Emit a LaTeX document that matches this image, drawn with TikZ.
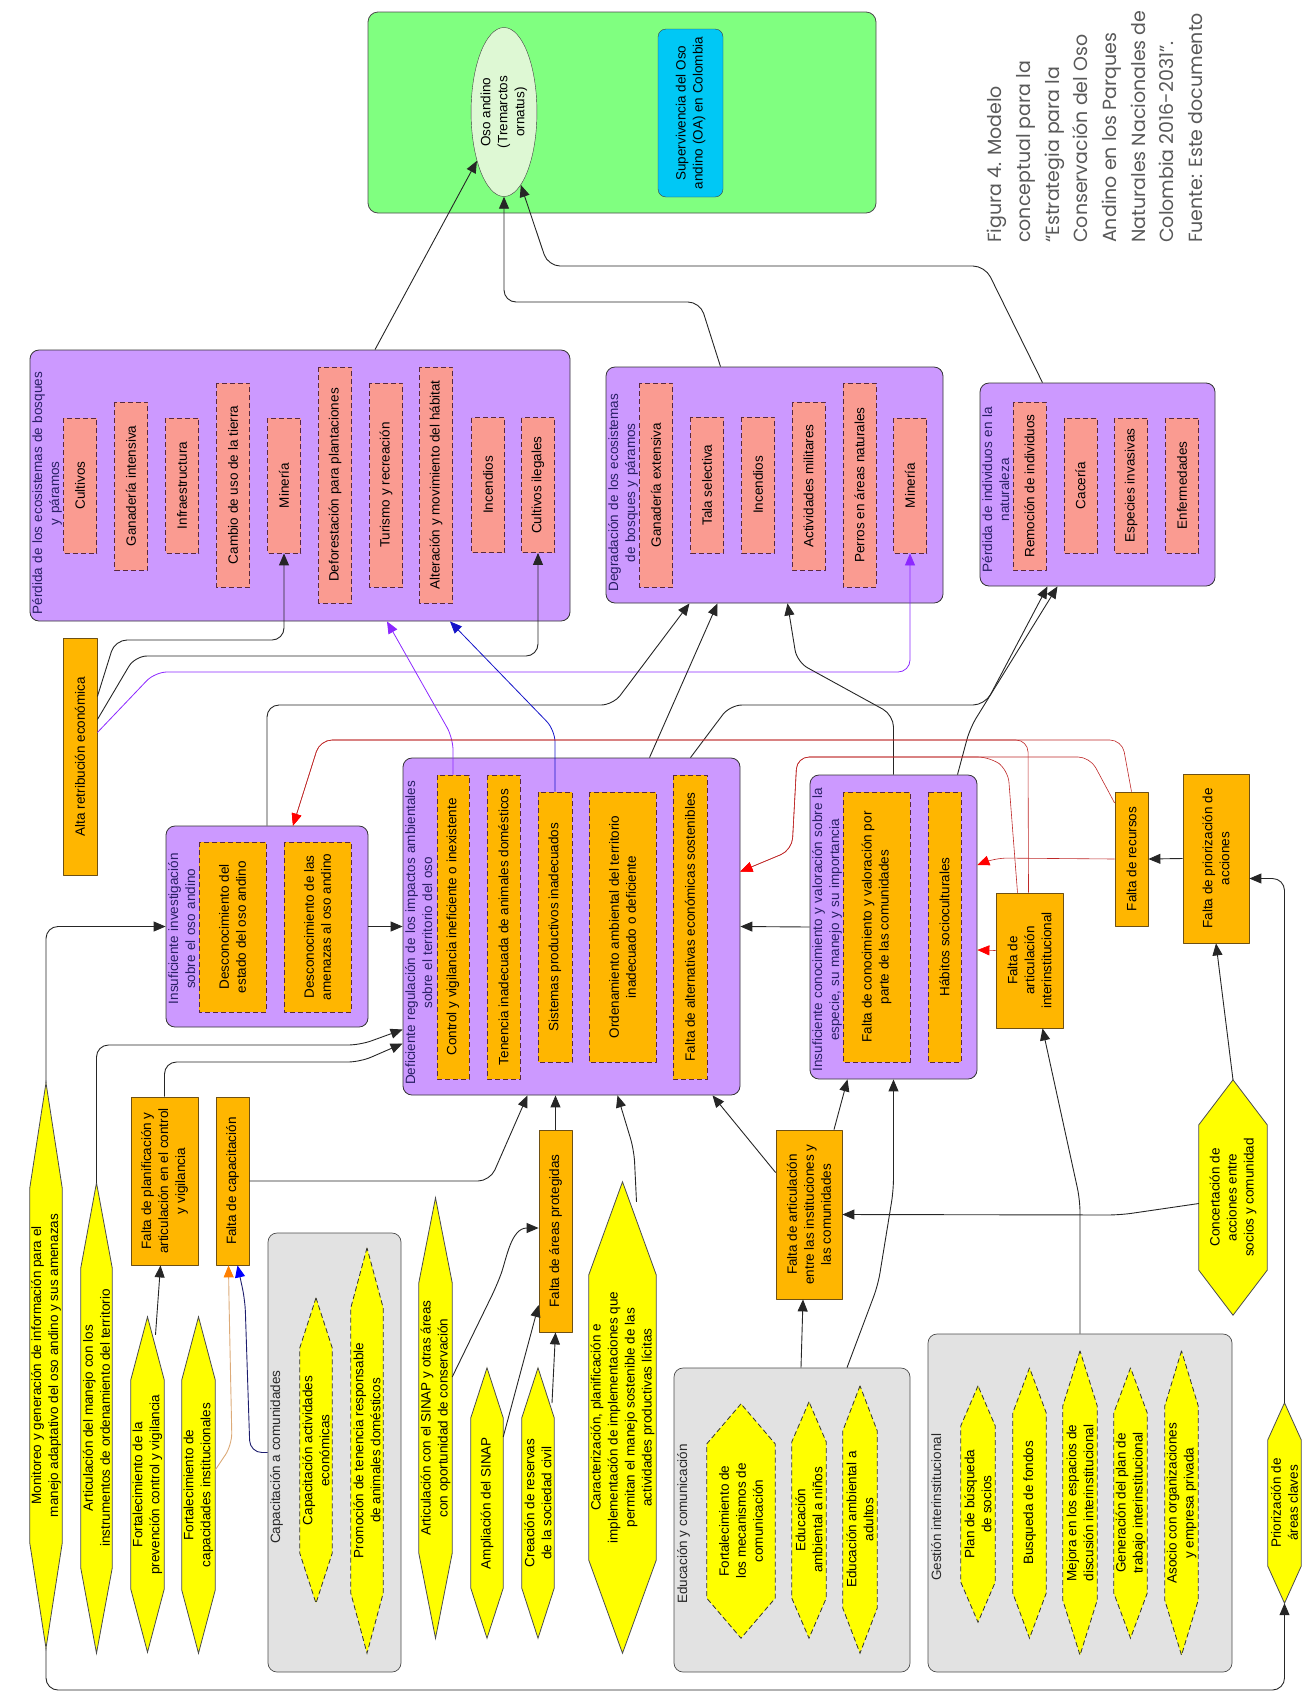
\documentclass[tikz,border=0pt]{standalone}
\usepackage{fontspec}
\setmainfont{Liberation Sans}
\newfontfamily\capfont{Poppins}
\usetikzlibrary{arrows.meta,calc,shapes.geometric}
\pgfdeclarelayer{back}
\pgfdeclarelayer{mid}
\pgfsetlayers{back,mid,main}
\definecolor{lila}{RGB}{204,153,255}
\definecolor{rosa}{RGB}{250,155,145}
\definecolor{naranja}{RGB}{255,182,0}
\definecolor{amarillo}{RGB}{255,255,0}
\definecolor{gris}{RGB}{226,226,226}
\definecolor{verde}{RGB}{128,255,128}
\definecolor{verdeclaro}{RGB}{222,248,212}
\definecolor{celeste}{RGB}{0,200,245}
\definecolor{rojo}{RGB}{190,40,40}
\definecolor{morado}{RGB}{140,40,255}
\definecolor{azul}{RGB}{20,20,200}
\definecolor{marino}{RGB}{30,30,110}
\definecolor{canela}{RGB}{220,170,120}
\definecolor{borde}{RGB}{90,40,60}
\definecolor{cafe}{RGB}{110,80,20}
\definecolor{tinta}{RGB}{40,30,100}
\tikzset{
  txt/.style={font=\fontsize{13.5}{17}\selectfont, align=center, inner sep=1pt},
  grp/.style={draw=black!80, line width=0.8pt, fill=lila, rounded corners=9pt},
  caja/.style={draw=black!70, line width=0.7pt, fill=gris, rounded corners=9pt},
  ttl/.style={txt, rotate=90, anchor=north west, text=tinta},
  gttl/.style={txt, rotate=90, anchor=north west, text=black!85},
  ame/.style={txt, rotate=90, draw=borde, dash pattern=on 5pt off 3pt, fill=rosa, line width=0.8pt, minimum height=33pt},
  cau/.style={txt, rotate=90, draw=borde, dash pattern=on 5pt off 3pt, fill=naranja, line width=0.8pt, minimum height=33pt},
  fac/.style={txt, rotate=90, draw=cafe, fill=naranja, line width=0.8pt},
  hex/.style={txt, rotate=90, inner sep=0.5pt},
  hexline/.style={draw=black!70, fill=amarillo, line width=0.8pt},
  hexdash/.style={hexline, draw=black!80, dash pattern=on 5pt off 3pt},
  con/.style={draw=black!85, line width=0.9pt, rounded corners=12pt, -{Triangle[length=12pt,width=10pt]}},
  rcon/.style={draw=rojo, line width=0.6pt, rounded corners=12pt, -{Triangle[length=12pt,width=10pt,color=red]}},
  mcon/.style={draw=morado, line width=0.8pt, rounded corners=12pt, -{Triangle[length=12pt,width=10pt]}},
  bcon/.style={draw=azul, line width=0.8pt, rounded corners=12pt, -{Triangle[length=12pt,width=10pt]}},
  tcon/.style={draw=canela, line width=0.9pt, rounded corners=12pt, -{Triangle[length=12pt,width=10pt,color=orange]}},
  ncon/.style={draw=marino, line width=0.9pt, rounded corners=12pt, -{Triangle[length=12pt,width=10pt,color=blue]}}
}
\begin{document}
\begin{tikzpicture}[x=1pt, y=-1pt, line join=round]
\useasboundingbox (0,0) rectangle (1314,1701);

% objetivo
\node[draw=black!70, fill=verde, rounded corners=10pt, line width=0.8pt, minimum width=508pt, minimum height=201pt] (meta) at (622,112.5) {};
\node[txt, ellipse, rotate=90, draw=black!75, fill=verdeclaro, minimum width=169pt, minimum height=64pt, inner sep=0pt] (oso) at (504,112) {Oso andino\\(Tremarctos\\ornatus)};
\node[txt, rotate=90, draw=black!75, fill=celeste, rounded corners=8pt, minimum width=168pt, minimum height=65pt] (sup) at (690.5,113) {Supervivencia del Oso\\andino (OA) en Colombia};

% leyenda
\node[rotate=90, anchor=north west, align=left, inner sep=0pt, text=black!65, font=\capfont\fontsize{19}{28.7}\selectfont] (cap) at (987,243) {Figura 4. Modelo\\conceptual para la\\“Estrategia para la\\Conservación del Oso\\Andino en los Parques\\Naturales Nacionales de\\Colombia 2016-2031”.\\Fuente: Este documento};

% amenazas
\node[grp, minimum width=540pt, minimum height=271pt] (P1) at (300,485.5) {};
\node[ttl, text width=243pt] (P1t) at (31,616) {Pérdida de los ecosistemas de bosques\\y páramos};
\node[ame, minimum width=135pt] (cul) at (80,485.5) {Cultivos};
\node[ame, minimum width=168pt] (gint) at (131,486) {Ganadería intensiva};
\node[ame, minimum width=135pt] (inf) at (182,485.5) {Infraestructura};
\node[ame, minimum width=204pt] (cam) at (233,485) {Cambio de uso de la tierra};
\node[ame, minimum width=135pt] (min) at (284,485.5) {Minería};
\node[ame, minimum width=236pt] (def) at (335,485) {Deforestación para plantaciones};
\node[ame, minimum width=204pt] (tur) at (386,485) {Turismo y recreación};
\node[ame, minimum width=236pt] (alt) at (436,485) {Alteración y movimiento del hábitat};
\node[ame, minimum width=135pt] (inc) at (488,485) {Incendios};
\node[ame, minimum width=135pt] (cil) at (538,485) {Cultivos ilegales};

\node[grp, minimum width=337pt, minimum height=236pt] (P2) at (774.5,485) {};
\node[ttl, text width=200pt] (P2t) at (607,594) {Degradación de los ecosistemas\\de bosques y páramos};
\node[ame, minimum width=204pt] (gext) at (656,485) {Ganadería extensiva};
\node[ame, minimum width=136pt] (tal) at (707,485) {Tala selectiva};
\node[ame, minimum width=136pt] (inc2) at (758,485) {Incendios};
\node[ame, minimum width=168pt] (act) at (808.5,486) {Actividades militares};
\node[ame, minimum width=204pt] (per) at (859.5,485) {Perros en áreas naturales};
\node[ame, minimum width=135pt] (min2) at (910,485.5) {Minería};

\node[grp, minimum width=235pt, minimum height=203pt] (P3) at (1097.5,484.5) {};
\node[ttl, text width=170pt] (P3t) at (981,576) {Pérdida de individuos en la\\naturaleza};
\node[ame, minimum width=168pt] (rem) at (1029.5,486) {Remoción de individuos};
\node[ame, minimum width=135pt] (cac) at (1080.5,485.5) {Cacería};
\node[ame, minimum width=135pt] (esp) at (1131,485.5) {Especies invasivas};
\node[ame, minimum width=135pt] (enf) at (1182,485.5) {Enfermedades};

\node[fac, minimum width=237pt, minimum height=34pt] (alta) at (80,756.5) {Alta retribución económica};

% causas
\node[grp, minimum width=202pt, minimum height=201pt] (I1) at (267,926.5) {};
\node[ttl, text width=156pt] (I1t) at (167,1008) {Insuficiente investigación\\sobre el oso andino};
\node[cau, minimum width=170pt, minimum height=67pt] (i1a) at (232.5,927) {Desconocimiento del\\estado del oso andino};
\node[cau, minimum width=170pt, minimum height=67pt] (i1b) at (317.5,927) {Desconocimiento de las\\amenazas al oso andino};

\node[grp, minimum width=337pt, minimum height=337pt] (D) at (571.5,926.5) {};
\node[ttl, text width=308pt] (Dt) at (404,1088) {Deficiente regulación de los impactos ambientales\\sobre el territorio del oso};
\node[cau, minimum width=304pt, minimum height=32pt] (da) at (453,927) {Control y vigilancia ineficiente o inexistente};
\node[cau, minimum width=304pt] (db) at (503.5,927) {Tenencia inadecuada de animales domésticos};
\node[cau, minimum width=270pt, minimum height=34pt] (dc) at (555,927) {Sistemas productivos inadecuados};
\node[cau, minimum width=270pt, minimum height=67pt] (dd) at (622.5,927) {Ordenamiento ambiental del territorio\\inadecuado o deficiente};
\node[cau, minimum width=304pt, minimum height=34pt] (de) at (690,927) {Falta de alternativas económicas sostenibles};

\node[grp, minimum width=167pt, minimum height=304pt] (K) at (893.5,927) {};
\node[ttl, text width=290pt] (Kt) at (811,1076) {Insuficiente conocimiento y valoración sobre la\\especie, su manejo y su importancia};
\node[cau, minimum width=270pt, minimum height=67pt] (ka) at (876.5,927) {Falta de conocimiento y valoración por\\parte de las comunidades};
\node[cau, minimum width=270pt] (kb) at (944.5,927) {Hábitos socioculturales};

\node[fac, minimum width=135pt, minimum height=67pt] (fai) at (1029.5,960.5) {Falta de\\articulación\\interinstitucional};
\node[fac, minimum width=134pt, minimum height=33pt] (fr) at (1131.5,859) {Falta de recursos};
\node[fac, minimum width=169pt, minimum height=66pt] (fpa) at (1216,858.5) {Falta de priorización de\\acciones};
\node[fac, minimum width=168pt, minimum height=67pt] (fpl) at (164.5,1181) {Falta de planificación y\\articulación en el control\\y vigilancia};
\node[fac, minimum width=168pt, minimum height=33pt] (fc) at (232.5,1181) {Falta de capacitación};
\node[fac, minimum width=202pt, minimum height=33pt] (fap) at (555.5,1231) {Falta de áreas protegidas};
\node[fac, minimum width=169pt, minimum height=66pt] (faic) at (809,1214.5) {Falta de articulación\\entre las instituciones y\\las comunidades};

% estrategias
\begin{pgfonlayer}{back}
\node[caja, minimum width=304pt, minimum height=338pt] (gest) at (1080,1503) {};
\node[caja, minimum width=236pt, minimum height=304pt] (educ) at (792,1520) {};
\node[caja, minimum width=133pt, minimum height=439pt] (capc) at (334.5,1452.5) {};
\end{pgfonlayer}
\node[gttl] (gestt) at (930,1582) {Gestión interinstitucional};
\node[gttl] (educt) at (676,1605) {Educación y comunicación};
\node[gttl] (capct) at (269,1545) {Capacitación a comunidades};

\node[hex, minimum width=565pt, minimum height=32pt] (M) at (46,1365.5) {Monitoreo y generación de información para el\\manejo adaptativo del oso andino y sus amenazas};
\node[hex, minimum width=470pt, minimum height=31pt] (A) at (96.5,1418) {Articulación del manejo con los\\instrumentos de ordenamiento del territorio};
\node[hex, minimum width=335pt, minimum height=33pt] (f1) at (147.5,1484.5) {Fortalecimiento de la\\prevención control y vigilancia};
\node[hex, minimum width=336pt, minimum height=33pt] (f2) at (198.5,1485) {Fortalecimiento de\\capacidades institucionales};
\node[hex, minimum width=305pt, minimum height=32pt] (c1) at (316,1450.5) {Capacitación actividades\\económicas};
\node[hex, minimum width=405pt, minimum height=32pt] (c2) at (367,1450.5) {Promoción de tenencia responsable\\de animales domésticos};
\node[hex, minimum width=440pt, minimum height=33pt] (s1) at (435.5,1418) {Articulación con el SINAP y otras áreas\\con oportunidad de conservación};
\node[hex, minimum width=270pt, minimum height=32pt] (s2) at (487,1503) {Ampliación del SINAP};
\node[hex, minimum width=270pt, minimum height=32pt] (s3) at (538,1503) {Creación de reservas\\de la sociedad civil};
\node[hex, minimum width=471pt, minimum height=67pt] (car) at (622.5,1417.5) {Caracterización, planificación e\\implementación de implementaciones que\\permitan el manejo sostenible de las\\actividades productivas lícitas};
\node[hex, minimum width=234pt, minimum height=68pt] (e1) at (741,1521) {Fortalecimiento de\\los mecanismos de\\comunicación};
\node[hex, minimum width=236pt, minimum height=34pt] (e2) at (809,1520) {Educación\\ambiental a niños};
\node[hex, minimum width=267pt, minimum height=34pt] (e3) at (860,1519.5) {Educación ambiental a\\adultos};
\node[hex, minimum width=236pt, minimum height=34pt] (g1) at (978,1504) {Plan de búsqueda\\de socios};
\node[hex, minimum width=270pt, minimum height=33pt] (g2) at (1029.5,1503) {Busqueda de fondos};
\node[hex, minimum width=304pt, minimum height=34pt] (g3) at (1080,1503) {Mejora en los espacios de\\discusión interinstitucional};
\node[hex, minimum width=270pt, minimum height=33pt] (g4) at (1130.5,1503) {Generación del plan de\\trabajo interinstitucional};
\node[hex, minimum width=304pt, minimum height=33pt] (g5) at (1181.5,1503) {Asocio con organizaciones\\y empresa privada};
\node[hex, minimum width=235pt, minimum height=68pt] (conc) at (1233,1197.5) {Concertación de\\acciones entre\\socios y comunidad};
\node[hex, minimum width=200pt, minimum height=33pt] (pri) at (1284.5,1503) {Priorización de\\áreas claves};

\begin{pgfonlayer}{mid}
\foreach \nm/\tp/\st in {M/105/hexline, A/85/hexline, f1/63/hexline, f2/63/hexline, s1/85/hexline, s2/50/hexline, s3/50/hexline, car/93/hexline, conc/45/hexline, pri/37/hexline, c1/50/hexdash, c2/60/hexdash, e1/40/hexdash, e2/40/hexdash, e3/45/hexdash, g1/40/hexdash, g2/45/hexdash, g3/55/hexdash, g4/45/hexdash, g5/55/hexdash}
  \draw[\st] (\nm.east) -- ($(\nm.north east)+(0,\tp)$) -- ($(\nm.north west)+(0,-\tp)$) -- (\nm.west) -- ($(\nm.south west)+(0,-\tp)$) -- ($(\nm.south east)+(0,\tp)$) -- cycle;
\end{pgfonlayer}

% hacia el objeto de conservacion
\draw[con] ([xshift=75pt]P1.north) -- (oso.151);
\draw[con] ([xshift=-54pt]P2.north) -- (700,302) -- (504,302) -- (oso.west);
\draw[con] ([xshift=-55pt]P3.north) -- (985,266) -- (548,266) -- (oso.193);

% hacia las amenazas
\draw[con] ([yshift=60pt]alta.south) -- (115,640) -- (284,640) -- (min.west);
\draw[con] ([yshift=37pt]alta.south) -- (135,656) -- (538,656) -- (cil.west);
\draw[mcon] ([yshift=24pt]alta.south) -- (155,672) -- (910,672) -- (min2.west);
\draw[con] (I1.north) -- (267,705) -- (613,705) -- ([xshift=-85pt]P2.south);
\draw[con] ([xshift=78pt]D.north) -- ([xshift=-57pt]P2.south);
\draw[con] ([xshift=119pt]D.north) -- (730,705) -- (985,705) -- ([xshift=-50pt]P3.south);
\draw[con] ([xshift=64pt]K.north) -- (970,728) -- ([xshift=-40pt]P3.south);
\draw[con] (K.north) -- (893.5,715) -- (797,662) -- ([xshift=13pt]P2.south);
\draw[mcon] (da.east) -- (453,738) -- ([xshift=87pt]P1.south);
\draw[bcon] (dc.east) -- (555,730) -- ([xshift=150pt]P1.south);

% entre causas
\draw[con] (I1.east) -- (D.west);
\draw[con] (K.west) -- (D.east);
\draw[rcon] (fr.east) -- (1122,740) -- (320,740) -- ([xshift=26pt]I1.north);
\draw[rcon] ([xshift=-1pt]fai.east) -- (1028,740) -- (320,740) -- ([xshift=26pt]I1.north);
\draw[rcon] ([yshift=56pt]fr.north) -- (1090,757) -- (797,757) -- (792,850) -- ([yshift=55pt]D.east);
\draw[rcon] ([xshift=-12pt]fai.east) -- (1008,770) -- (990,757) -- (797,757) -- (792,850) -- ([yshift=55pt]D.east);
\draw[rcon] (fr.north) -- (995,858) -- ([yshift=62pt]K.east);
\draw[rcon] ([yshift=10pt]fai.north) -- ([yshift=-23pt]K.east);
\draw[con] (fpa.north) -- (fr.south);

% desde las estrategias
\draw[con] (M.east) -- (46,926.5) -- (I1.west);
\draw[con] (A.east) -- (96.5,1045) -- (360,1045) -- ([yshift=-103pt]D.west);
\draw[con] (fpl.east) -- (164.5,1062) -- (360,1062) -- ([yshift=-117pt]D.west);
\draw[con] (fc.south) -- (490,1181) -- ([xshift=-44pt]D.south);
\draw[con] (fap.east) -- (fap.east |- D.south);
\draw[con] ([shift={(14,20)}]car.east) -- (634,1150) -- ([xshift=46pt]D.south);
\draw[con] ([yshift=42pt]faic.north) -- ([xshift=141pt]D.south);
\draw[con] ([xshift=25pt]faic.east) -- ([xshift=-46pt]K.south);
\draw[con] ([yshift=-6pt]conc.north) -- (1120,1215) -- (faic.south);
\draw[con] (conc.east) -- (fpa.west);
\draw[con] (pri.east) -- (1284.5,878.5) -- ([yshift=-20pt]fpa.south);
\draw[con] (M.west) -- (46,1690) -- (1284.5,1690) -- (pri.west);
\draw[con] (gest.north) -- (1080,1200) -- ([xshift=13pt]fai.west);
\draw[con] ([xshift=9pt]educ.north) -- ([xshift=-6pt]faic.west);
\draw[con] ([xshift=55pt]educ.north) -- (878,1285) -- (893.5,1190) -- (K.south);
\draw[con] ([yshift=41pt]s1.south) -- (497,1285) to[out=70,in=180] ([yshift=3pt]fap.north);
\draw[con] ([yshift=66pt]s2.south) -- ([yshift=-74pt]fap.north);
\draw[con] ([shift={(14,-100)}]s3.center) -- (fap.west);
\draw[con] ([shift={(8,18)}]f1.east) -- ([xshift=-4pt]fpl.west);
\draw[tcon] ([yshift=15pt]f2.south) -- (232,1445) -- (229,1300) -- ([xshift=-4pt]fc.west);
\draw[ncon] (capc.west) -- (250,1452.5) -- (245,1300) -- ([xshift=5pt]fc.west);
\end{tikzpicture}
\end{document}
